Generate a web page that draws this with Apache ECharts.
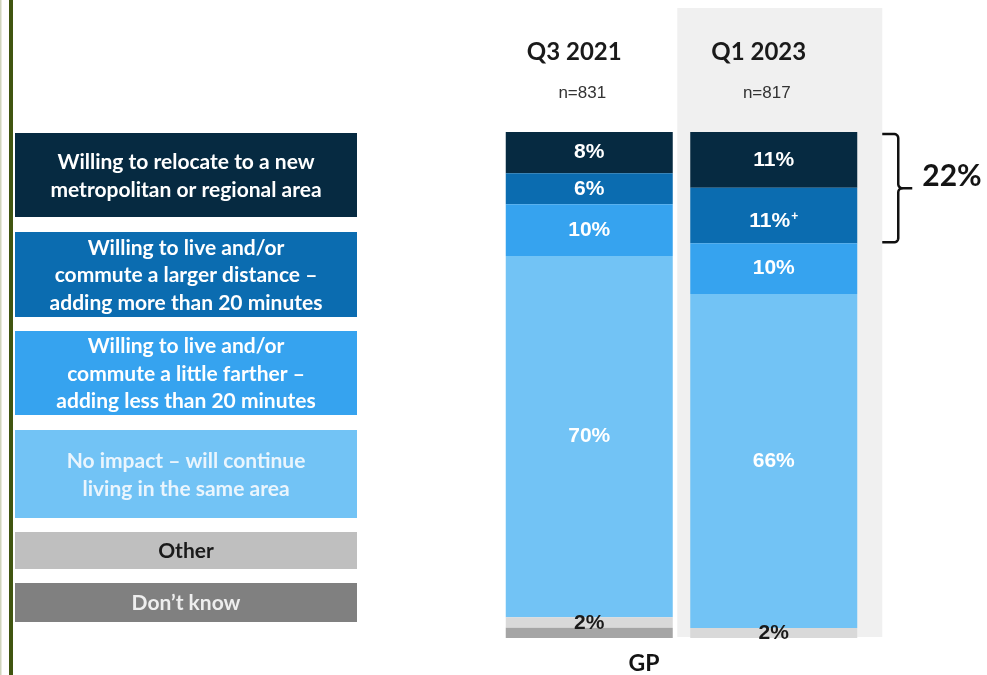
<!DOCTYPE html>
<html>
<head>
<meta charset="utf-8">
<script src="https://cdn.jsdelivr.net/npm/echarts@6/dist/echarts.min.js"></script>
<style>
  html, body { margin: 0; padding: 0; background: #ffffff; }
  #chart { width: 987px; height: 675px; }
</style>
</head>
<body>
<div id="chart"></div>
<script>
// Survey periods and sample sizes
const periods = ['Q3 2021', 'Q1 2023'];
const sampleSizes = ['n=831', 'n=817'];
const groupLabel = 'GP';

// Response categories (drawn as the key on the left)
const responses = [
  'Willing to relocate to a new\nmetropolitan or regional area',
  'Willing to live and/or\ncommute a larger distance –\nadding more than 20 minutes',
  'Willing to live and/or\ncommute a little farther –\nadding less than 20 minutes',
  'No impact – will continue\nliving in the same area',
  'Other',
  'Don’t know'
];

// Share of respondents (%) per period
const relocate       = [8, 11];
const largerDistance = [6, 11];
const littleFarther  = [10, 10];
const noImpact       = [70, 66];
const other          = [2, 2];
const dontKnow       = [2, 0];

// Significance marker per period for the "larger distance" answer
const largerDistanceNote = ['', '+'];

// ---- styling ----
const barColors = ['#062a41', '#0b6cb0', '#36a3ef', '#72c3f5', '#d9d9d9', '#a5a5a5'];
const keyColors = ['#062a41', '#0b6cb0', '#36a3ef', '#72c3f5', '#bfbfbf', '#808080'];
const keyTextColors = ['#ffffff', '#ffffff', '#ffffff', '#eaf5fd', '#1a1a1a', '#eeeeee'];
const keyBoxes = [[133, 84], [232, 85], [331, 84], [430, 88], [532, 37], [583, 39]];

const seriesValues = [relocate, largerDistance, littleFarther, noImpact, other, dontKnow];
// each column is drawn as a share of its own total (100% stacked)
const totals = periods.map((_, i) => seriesValues.reduce((s, arr) => s + arr[i], 0));

const labelFont = { fontFamily: 'Liberation Sans, Arial, sans-serif', fontWeight: 'bold', fontSize: 21 };

const series = seriesValues.map((vals, si) => {
  const labelColor = si >= 4 ? '#1a1a1a' : '#ffffff';
  return {
    name: responses[si],
    type: 'bar',
    stack: 'total',
    barWidth: 167,
    itemStyle: { color: barColors[si] },
    data: vals.map((v, i) => {
      const note = si === 1 ? largerDistanceNote[i] : '';
      return {
        value: v * 100 / totals[i],
        label: {
          show: v > 0 && si !== 5,
          position: 'inside',
          offset: note ? [0, 6] : (si === 4 && i === 0 ? [0, 1] : [0, 0]),
          formatter: note ? `{v|${v}%}{s|${note}}` : `{v|${v}%}`,
          rich: {
            v: Object.assign({ color: labelColor }, labelFont),
            s: { color: labelColor, fontFamily: 'Liberation Sans, Arial, sans-serif', fontWeight: 'bold',
                 fontSize: 12, verticalAlign: 'top', padding: [0, 0, 9, 1] }
          }
        }
      };
    }),
    emphasis: { disabled: true }
  };
});

const chart = echarts.init(document.getElementById('chart'), null, { renderer: 'canvas' });

chart.setOption({
  animation: false,
  backgroundColor: '#ffffff',
  grid: { left: 497, width: 369, top: 132, height: 506 },
  xAxis: {
    type: 'category',
    data: periods,
    position: 'top',
    axisLine: { show: false },
    axisTick: { show: false },
    axisLabel: {
      margin: 23,
      formatter: (v, i) => `{q|${v}}\n{n|${sampleSizes[i]}}`,
      rich: {
        q: { fontFamily: 'Lato, sans-serif', fontWeight: 'bold', fontSize: 24, color: '#1a1a1a',
             lineHeight: 50, padding: [0, 30, 0, 0] },
        n: { fontFamily: 'Liberation Sans, Arial, sans-serif', fontSize: 17, color: '#333333',
             lineHeight: 32, padding: [0, 14, 0, 0] }
      }
    }
  },
  yAxis: {
    type: 'value',
    min: 0,
    max: 100,
    inverse: true,
    show: false,
    splitLine: { show: false }
  },
  series: series
});

// ---- decorations placed from the axes ----
const px = (cat, val) => chart.convertToPixel({ gridIndex: 0 }, [cat, val]);

const graphics = [];

// left page rule
graphics.push({ type: 'rect', shape: { x: 0, y: 0, width: 1.5, height: 675 }, style: { fill: '#cfd4bc' }, z: 0 });
graphics.push({ type: 'rect', shape: { x: 9, y: 0, width: 4, height: 675 }, style: { fill: '#405510' }, z: 0 });

// shaded panel behind the latest period
const c1 = px(1, 0);
const bottom1 = px(1, 100);
graphics.push({
  type: 'rect', z: -10,
  shape: { x: c1[0] - 96.5, y: 8, width: 205, height: bottom1[1] - 8 - 1 },
  style: { fill: '#f0f0f0' }
});

// key boxes
responses.forEach((name, i) => {
  const [y, h] = keyBoxes[i];
  graphics.push({
    type: 'rect', z: 1,
    shape: { x: 15, y: y, width: 342, height: h },
    style: { fill: keyColors[i] }
  });
  graphics.push({
    type: 'text', z: 2,
    x: 186, y: y + h / 2 + 1,
    style: {
      text: name,
      fill: keyTextColors[i],
      font: 'bold 21px Lato, sans-serif',
      lineHeight: 27.5,
      align: 'center',
      verticalAlign: 'middle'
    }
  });
});

// curly bracket around the two "willing to move" answers in the latest period
const bTop = px(1, 0)[1] + 2;
const bBot = px(1, (relocate[1] + largerDistance[1]) * 100 / totals[1])[1] - 1;
const bMid = (bTop + bBot) / 2;
const bx0 = c1[0] + 108.5, bx1 = bx0 + 16, bx2 = bx1 + 14;
const r = 4;
// quarter-turn helper points for rounded corners
const corner = (cx, cy, a0, a1) => {
  const pts = [];
  for (let k = 0; k <= 4; k++) {
    const a = a0 + (a1 - a0) * k / 4;
    pts.push([cx + r * Math.cos(a), cy + r * Math.sin(a)]);
  }
  return pts;
};
const H = Math.PI / 2;
const upper = [[bx0, bTop]]
  .concat(corner(bx1 - r, bTop + r, -H, 0))
  .concat([[bx1, bMid - r]])
  .concat(corner(bx1 + r, bMid - r, Math.PI, H))
  .concat([[bx2, bMid]]);
const lower = [[bx1 + r, bMid]]
  .concat(corner(bx1 + r, bMid + r, -H, -Math.PI))
  .concat([[bx1, bBot - r]])
  .concat(corner(bx1 - r, bBot - r, 0, H))
  .concat([[bx0, bBot]]);
[upper, lower].forEach(points => {
  graphics.push({
    type: 'polyline', z: 3,
    shape: { points: points },
    style: { stroke: '#111111', lineWidth: 2.5, fill: null, lineJoin: 'round' }
  });
});
graphics.push({
  type: 'text', z: 3,
  x: bx2 + 10, y: bMid - 12,
  style: {
    text: (relocate[1] + largerDistance[1]) + '%',
    fill: '#141414',
    font: 'bold 30px Lato, sans-serif',
    align: 'left',
    verticalAlign: 'middle'
  }
});

// group label under the columns
graphics.push({
  type: 'text', z: 3,
  x: 644, y: 664,
  style: {
    text: groupLabel,
    fill: '#141414',
    font: 'bold 23px Lato, sans-serif',
    align: 'center',
    verticalAlign: 'middle'
  }
});

chart.setOption({ graphic: graphics });
</script>
</body>
</html>
